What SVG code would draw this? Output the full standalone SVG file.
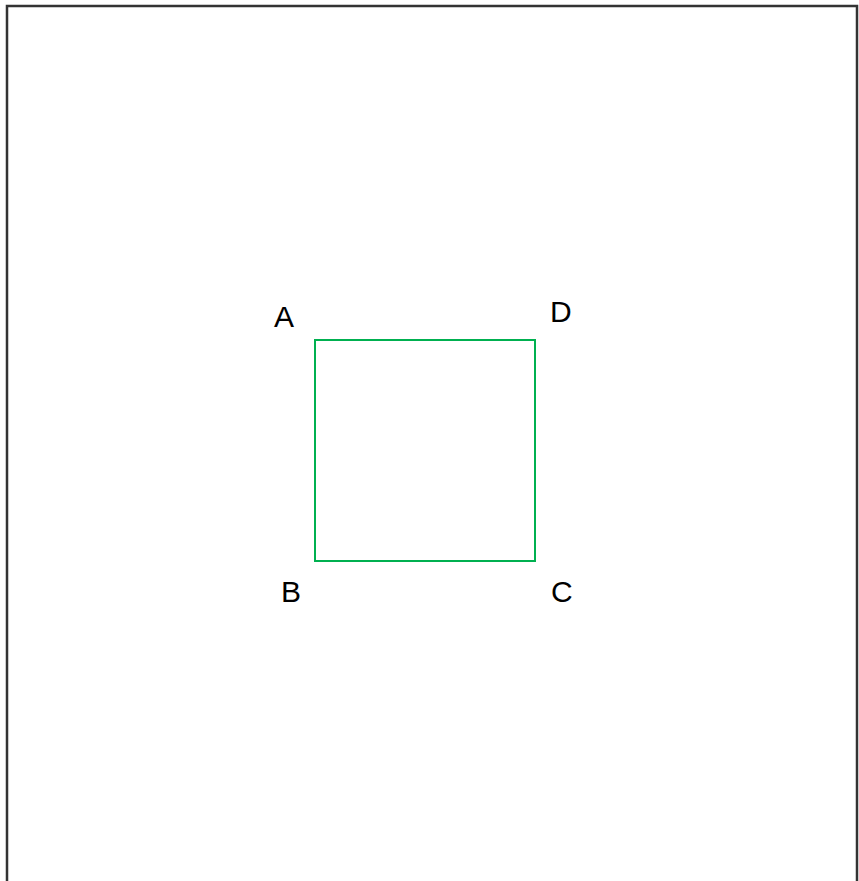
<svg xmlns="http://www.w3.org/2000/svg" width="859" height="881" viewBox="0 0 859 881">
<style>
.frame{fill:none;stroke:#333333;stroke-width:2.5}
.sq{fill:none;stroke:#00b050;stroke-width:2}
.lbl{font-family:"Liberation Sans",Arial,sans-serif;font-size:30px;fill:#000}
</style>
<rect width="859" height="881" fill="#ffffff"/>
<g id="frame"><rect class="frame" x="7" y="6" width="850" height="900"/></g>
<g id="square"><rect class="sq" x="315" y="340" width="220" height="221"/></g>
<g id="label-A"><text class="lbl" x="274" y="327">A</text></g>
<g id="label-D"><text class="lbl" x="550" y="322">D</text></g>
<g id="label-B"><text class="lbl" x="281" y="602">B</text></g>
<g id="label-C"><text class="lbl" x="551" y="602">C</text></g>
</svg>
